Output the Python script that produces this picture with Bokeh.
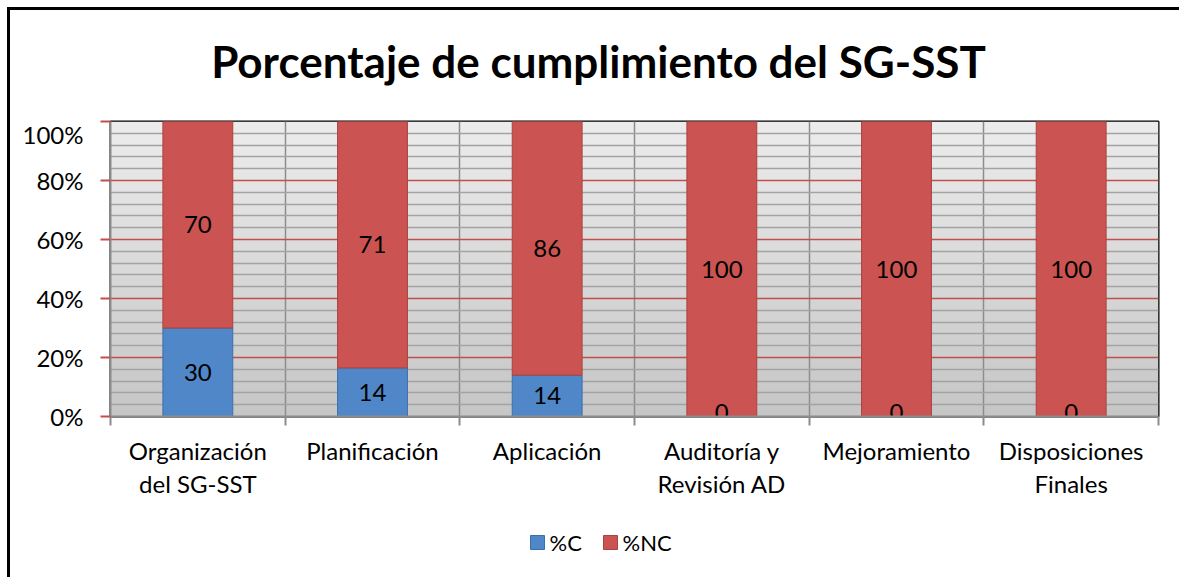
import numpy as np
from bokeh.plotting import figure
from bokeh.layouts import column
from bokeh.models import (ColumnDataSource, FixedTicker, NumeralTickFormatter, Range1d)
from bokeh.core.properties import value
from bokeh.embed import file_html
from bokeh.resources import INLINE

title_text = "Porcentaje de cumplimiento del SG-SST"
categories = ["Organización\ndel SG-SST", "Planificación", "Aplicación",
              "Auditoría y\nRevisión AD", "Mejoramiento", "Disposiciones\nFinales"]
pct_c = [30, 14, 14, 0, 0, 0]
pct_nc = [70, 71, 86, 100, 100, 100]
series_names = ["%C", "%NC"]
y_ticks = [0, 0.2, 0.4, 0.6, 0.8, 1.0]

FONT = "Lato"
BLUE = "#5087c8"
RED = "#cb5351"
BLUE_EDGE = "#3f6fa8"
RED_EDGE = "#a84341"
W = 1169

x = list(range(len(categories)))
tot = [c + n for c, n in zip(pct_c, pct_nc)]
fc = [c / t for c, t in zip(pct_c, tot)]
fn = [n / t for n, t in zip(pct_nc, tot)]

src = ColumnDataSource(dict(
    x=x, c=fc, n=fn,
    n_mid=[f + g / 2 for f, g in zip(fc, fn)],
    n_lab=[str(v) for v in pct_nc],
))
nz = [i for i, v in enumerate(pct_c) if v > 0]
zz = [i for i, v in enumerate(pct_c) if v == 0]
src_c = ColumnDataSource(dict(x=[x[i] for i in nz], y=[fc[i] / 2 for i in nz],
                              lab=[str(pct_c[i]) for i in nz]))
src_z = ColumnDataSource(dict(x=[x[i] for i in zz], y=[0 for i in zz],
                              lab=[str(pct_c[i]) for i in zz]))

# frames of the strips are aligned with the main chart's frame (100 .. 1148 px)
strip_x = Range1d(100, 1148)

# ---------- title strip ----------
t = figure(width=W, height=109, output_backend="svg", toolbar_location=None,
           x_range=strip_x, y_range=Range1d(0, 109), min_border=0,
           x_axis_location=None, y_axis_location=None)
t.grid.visible = False
t.outline_line_color = None
t.background_fill_color = "white"
t.border_fill_color = "white"
t.text(x=[588], y=[59], text=[title_text], text_align="center", text_baseline="middle",
       text_font=value(FONT), text_font_size="44px", text_font_style="bold",
       text_color="black")

# ---------- main chart ----------
p = figure(width=W, height=391, output_backend="svg", toolbar_location=None,
           x_range=Range1d(-0.5, len(categories) - 0.5), y_range=Range1d(0, 1),
           min_border_left=100, min_border_right=21, min_border_top=2,
           min_border_bottom=94)

# background gradient of the plot area
N = 64
img = np.zeros((N, 1), dtype=np.uint32)
view = img.view(dtype=np.uint8).reshape((N, 1, 4))
for i in range(N):
    f = i / (N - 1)
    g = int(round(0xc6 + (0xec - 0xc6) * f))
    view[i, 0] = [g, g, g, 255]
p.image_rgba(image=[img], x=-0.5, y=0, dw=len(categories), dh=1, level="image")

rs = p.vbar_stack(["c", "n"], x="x", width=0.4, source=src,
                  color=[BLUE, RED], line_color=[BLUE_EDGE, RED_EDGE], line_width=1)

p.text(x="x", y="y", text="lab", source=src_c, text_align="center",
       text_baseline="middle", text_font=value(FONT), text_font_size="24px",
       text_color="black")
p.text(x="x", y="y", text="lab", source=src_z, text_align="center",
       text_baseline="bottom", text_font=value(FONT), text_font_size="24px",
       text_color="black", y_offset=4)
p.text(x="x", y="n_mid", text="n_lab", source=src, text_align="center",
       text_baseline="middle", text_font=value(FONT), text_font_size="24px",
       text_color="black")

p.yaxis.ticker = FixedTicker(ticks=y_ticks)
p.yaxis.formatter = NumeralTickFormatter(format="0%")
p.yaxis.major_label_text_font = FONT
p.yaxis.major_label_text_font_size = "24px"
p.yaxis.major_label_text_color = "black"
p.yaxis.major_tick_line_color = "#c0504d"
p.yaxis.major_tick_line_width = 2
p.yaxis.major_tick_out = 10
p.yaxis.major_tick_in = 0
p.yaxis.minor_tick_line_color = None
p.yaxis.axis_line_color = "#8c8c8c"
p.yaxis.axis_line_width = 2
p.yaxis.major_label_standoff = 17

p.xaxis.ticker = FixedTicker(ticks=x, minor_ticks=[i - 0.5 for i in range(len(categories) + 1)])
p.xaxis.major_label_overrides = {i: c for i, c in enumerate(categories)}
p.xaxis.major_label_text_font = FONT
p.xaxis.major_label_text_font_size = "24px"
p.xaxis.major_label_text_color = "black"
p.xaxis.major_label_text_line_height = 1.15
p.xaxis.major_tick_line_color = None
p.xaxis.minor_tick_line_color = "#8c8c8c"
p.xaxis.minor_tick_line_width = 2
p.xaxis.minor_tick_out = 9
p.xaxis.minor_tick_in = 0
p.xaxis.axis_line_color = "#8c8c8c"
p.xaxis.axis_line_width = 2
p.xaxis.major_label_standoff = 10

p.ygrid.ticker = FixedTicker(ticks=y_ticks, minor_ticks=[i * 0.04 for i in range(26) if i % 5])
p.ygrid.grid_line_color = "#c0504d"
p.ygrid.grid_line_width = 1.5
p.ygrid.minor_grid_line_color = "#a3a3a3"
p.ygrid.minor_grid_line_width = 1.5
p.xgrid.ticker = FixedTicker(ticks=[i + 0.5 for i in range(len(categories) - 1)])
p.xgrid.grid_line_color = "#8c8c8c"
p.xgrid.grid_line_width = 1.5

p.outline_line_color = "black"
p.outline_line_width = 2
p.background_fill_color = "#d9d9d9"
p.border_fill_color = "white"

# ---------- legend strip ----------
q = figure(width=W, height=67, output_backend="svg", toolbar_location=None,
           x_range=strip_x, y_range=Range1d(0, 67), min_border=0,
           x_axis_location=None, y_axis_location=None)
q.grid.visible = False
q.outline_line_color = None
q.border_fill_color = "white"
q.background_fill_color = "white"
leg = ColumnDataSource(dict(
    left=[520, 593], right=[534, 607], bottom=[28, 28], top=[42, 42],
    fill=[BLUE, RED], edge=[BLUE_EDGE, RED_EDGE],
    tx=[539, 612], ty=[35, 35], label=series_names,
))
q.quad(left="left", right="right", bottom="bottom", top="top", source=leg,
       fill_color="fill", line_color="edge", line_width=1)
q.text(x="tx", y="ty", text="label", source=leg, text_align="left",
       text_baseline="middle", text_font=value(FONT), text_font_size="22px",
       text_color="black")

layout = column(t, p, q, spacing=0)
layout.styles = {"margin-left": "7px", "margin-top": "7px",
                 "border-left": "3px solid black", "border-top": "3px solid black"}

open("out.html", "w").write(file_html(layout, INLINE))
